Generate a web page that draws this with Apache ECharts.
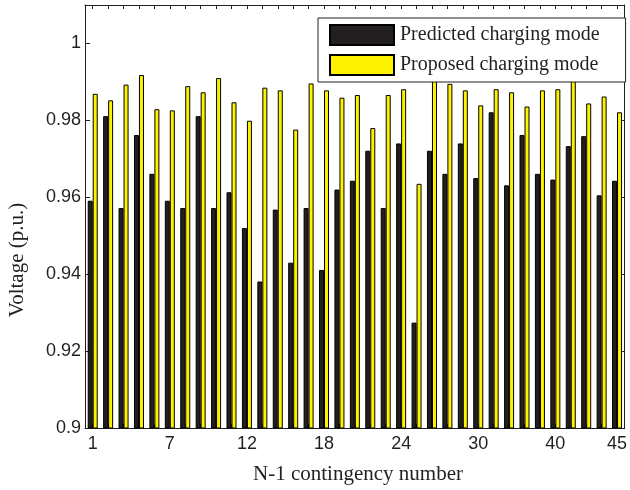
<!DOCTYPE html>
<html>
<head>
<meta charset="utf-8">
<script src="https://cdn.jsdelivr.net/npm/echarts@6/dist/echarts.min.js"></script>
<style>html,body{margin:0;padding:0;background:#fff;}#c{width:630px;height:490px;}</style>
</head>
<body>
<div id="c"></div>
<script>
// Group index (one per bar pair) 1..35
const categories = ['1','2','3','4','5','6','7','8','9','10','11','12','13','14','15','16','17','18','19','20',
  '21','22','23','24','25','26','27','28','29','30','31','32','33','34','35'];
// Tick labels shown under some groups (N-1 contingency numbers)
const tickIndex = [0, 5, 10, 15, 20, 25, 30, 34];
const tickLabels = ['1', '7', '12', '18', '24', '30', '40', '45'];

const predicted = [0.9591, 0.9811, 0.9572, 0.9762, 0.9661, 0.9591, 0.9572, 0.9811, 0.9572, 0.9613,
  0.9520, 0.9381, 0.9568, 0.9430, 0.9572, 0.9411, 0.9620, 0.9643, 0.9721, 0.9572,
  0.9740, 0.9274, 0.9721, 0.9661, 0.9740, 0.9650, 0.9821, 0.9631, 0.9762, 0.9661,
  0.9646, 0.9733, 0.9759, 0.9605, 0.9643];
const proposed = [0.9869, 0.9852, 0.9893, 0.9918, 0.9829, 0.9826, 0.9889, 0.9873, 0.9910, 0.9847,
  0.9799, 0.9885, 0.9878, 0.9776, 0.9896, 0.9878, 0.9859, 0.9866, 0.9780, 0.9866,
  0.9881, 0.9635, 0.9925, 0.9895, 0.9878, 0.9839, 0.9881, 0.9873, 0.9836, 0.9878,
  0.9881, 0.9915, 0.9844, 0.9862, 0.9821];

const ink = '#231f20';
const chart = echarts.init(document.getElementById('c'), null, {renderer: 'canvas'});
const labelMap = {};
tickIndex.forEach((i, k) => { labelMap[i] = tickLabels[k]; });

const xCommon = {
  type: 'category',
  data: categories,
  boundaryGap: true,
  axisLine: {show: true, lineStyle: {color: ink, width: 1}},
  axisTick: {show: true, inside: true, length: 4, alignWithLabel: true, interval: 0, lineStyle: {color: ink}},
  splitLine: {show: false}
};
const yCommon = {
  type: 'value',
  min: 0.9, max: 1.01, interval: 0.02,
  axisLine: {show: true, lineStyle: {color: ink, width: 1}},
  axisTick: {show: true, inside: true, length: 5, lineStyle: {color: ink}},
  splitLine: {show: false}
};

chart.setOption({
  animation: false,
  backgroundColor: '#fff',
  grid: {left: 85, right: 2, top: 5, bottom: 62, containLabel: false},
  xAxis: [
    Object.assign({}, xCommon, {
      position: 'bottom',
      axisLabel: {
        show: true, interval: 0, margin: 7,
        color: ink, fontFamily: 'Liberation Sans', fontSize: 18,
        formatter: (v, idx) => (labelMap[idx] !== undefined ? labelMap[idx] : '')
      }
    }),
    Object.assign({}, xCommon, {position: 'top', axisLabel: {show: false}})
  ],
  yAxis: [
    Object.assign({}, yCommon, {
      position: 'left',
      axisLabel: {show: true, showMaxLabel: false, margin: 4, color: ink,
        fontFamily: 'Liberation Sans', fontSize: 18}
    }),
    Object.assign({}, yCommon, {position: 'right', axisLabel: {show: false}})
  ],
  legend: {
    show: true,
    orient: 'vertical',
    left: 318, top: 18,
    padding: [6, 26, 6, 11],
    itemGap: 8,
    icon: 'rect',
    itemWidth: 64, itemHeight: 20,
    backgroundColor: '#fff',
    borderColor: ink, borderWidth: 1,
    textStyle: {color: ink, fontFamily: 'Liberation Serif', fontSize: 20, padding: [0, 0, 0, 1]},
    data: ['Predicted charging mode', 'Proposed charging mode']
  },
  series: [
    {
      name: 'Predicted charging mode', type: 'bar', data: predicted,
      barWidth: 5, barGap: '0%',
      itemStyle: {color: ink, borderColor: '#000', borderWidth: 1}
    },
    {
      name: 'Proposed charging mode', type: 'bar', data: proposed,
      barWidth: 5, barGap: '0%',
      itemStyle: {color: '#fff200', borderColor: '#000', borderWidth: 1}
    }
  ],
  graphic: [
    {type: 'text', x: 17, y: 260, rotation: Math.PI / 2,
      style: {text: 'Voltage (p.u.)', fill: ink, font: '21px "Liberation Serif"', align: 'center', verticalAlign: 'middle'}},
    {type: 'text', x: 358, y: 474,
      style: {text: 'N-1 contingency number', fill: ink, font: '21px "Liberation Serif"', align: 'center', verticalAlign: 'middle'}}
  ]
});
</script>
</body>
</html>
